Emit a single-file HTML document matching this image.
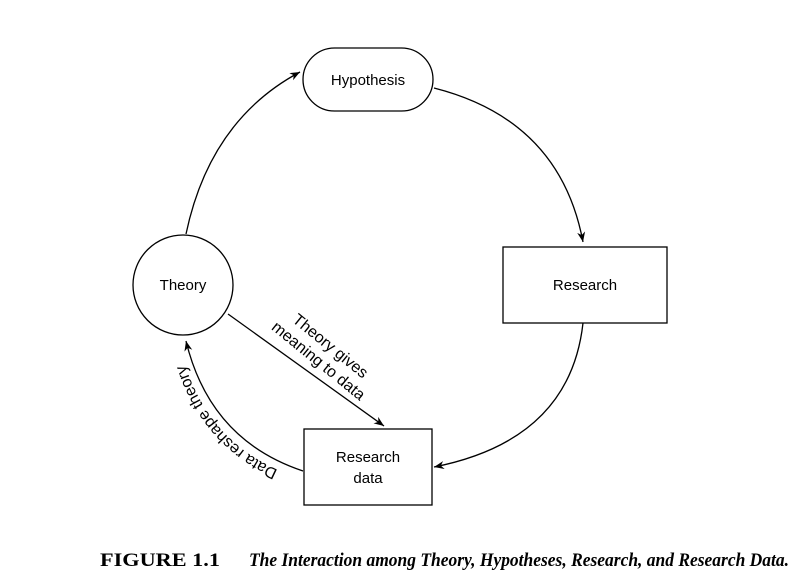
<!DOCTYPE html>
<html><head><meta charset="utf-8"><style>
html,body{margin:0;padding:0;background:#fff;}
svg{display:block;}
</style></head><body>
<svg width="803" height="581" viewBox="0 0 803 581" xmlns="http://www.w3.org/2000/svg">
<defs>
<marker id="a" viewBox="0 0 10 10" refX="10" refY="5" markerWidth="10" markerHeight="10" markerUnits="userSpaceOnUse" orient="auto">
<path d="M0,1 L10,5 L0,9 L3,5 z" fill="#000"/>
</marker>
<path id="tp" d="M300,478 Q202,448 179,342"/>
</defs>
<g fill="none" stroke="#000" stroke-width="1.3">
<rect x="303" y="48" width="130" height="63" rx="31.5"/>
<circle cx="183" cy="285" r="50"/>
<rect x="503" y="247" width="164" height="76"/>
<rect x="304" y="429" width="128" height="76"/>
<path d="M186,234 Q210,120 300,72" marker-end="url(#a)"/>
<path d="M434,88 Q560,120 583,242" marker-end="url(#a)"/>
<path d="M583,323 Q570,440 434,467" marker-end="url(#a)"/>
<path d="M228,314 L384,426" marker-end="url(#a)"/>
<path d="M303,471 Q210,440 186,341" marker-end="url(#a)"/>
</g>
<g font-family="'Liberation Sans',sans-serif" font-size="15" text-anchor="middle" fill="#000">
<text x="368" y="85">Hypothesis</text>
<text x="183" y="290">Theory</text>
<text x="585" y="290">Research</text>
<text x="368" y="462">Research</text>
<text x="368" y="483">data</text>
<g transform="translate(324,354) rotate(39)" font-size="16">
<text x="0" y="-5">Theory gives</text>
<text x="0" y="14">meaning to data</text>
</g>
<text font-size="16"><textPath href="#tp" startOffset="50%">Data reshape theory</textPath></text>
</g>
<text x="100" y="566" font-family="'Liberation Serif',serif" font-size="19" font-weight="bold" textLength="120" lengthAdjust="spacingAndGlyphs">FIGURE 1.1</text>
<text x="249" y="566" font-family="'Liberation Serif',serif" font-size="19" font-weight="bold" font-style="italic" textLength="540" lengthAdjust="spacingAndGlyphs">The Interaction among Theory, Hypotheses, Research, and Research Data.</text>
</svg>
</body></html>
